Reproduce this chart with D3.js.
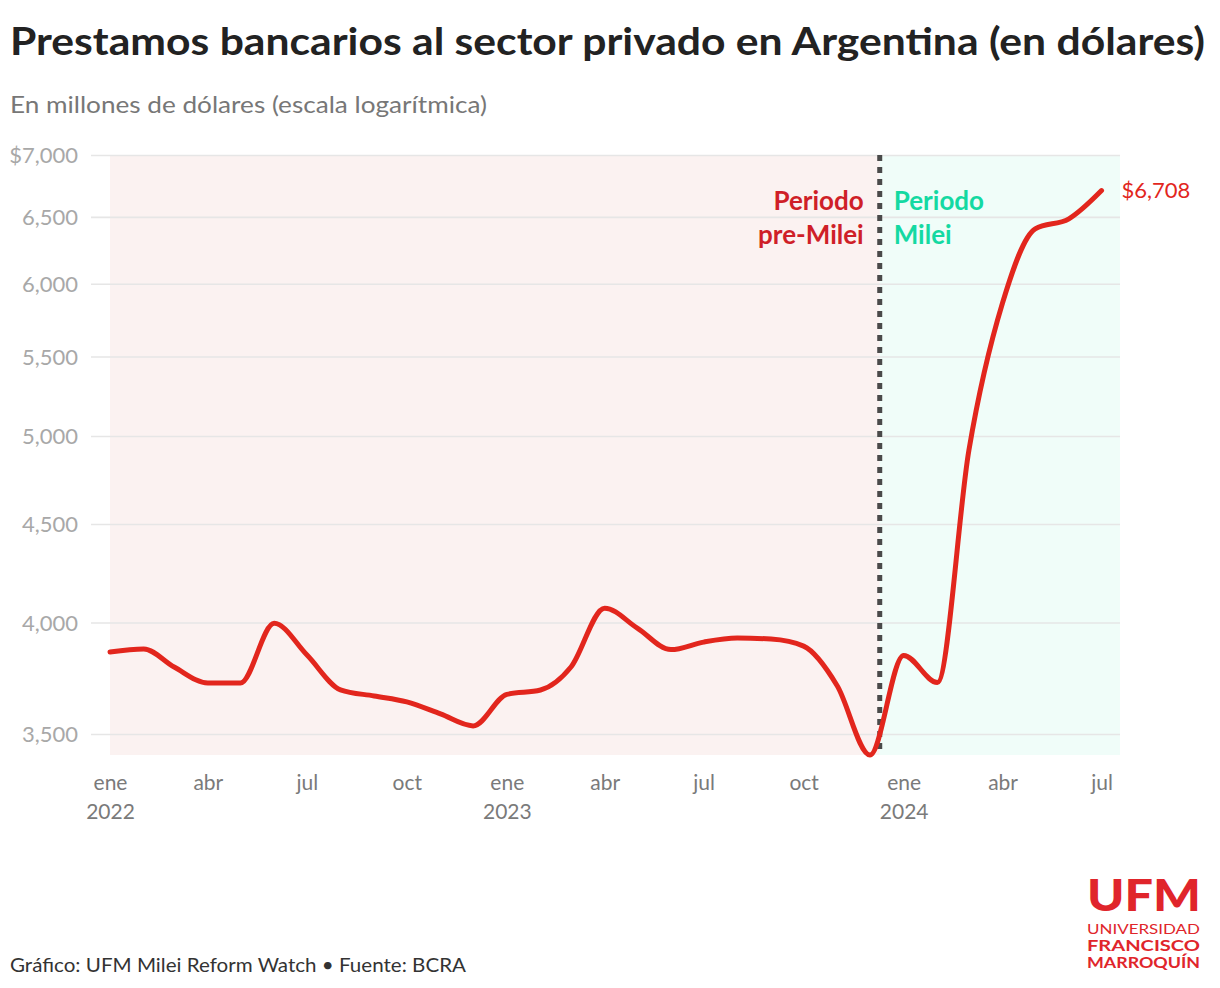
<!DOCTYPE html>
<html>
<head>
<meta charset="utf-8">
<script src="https://cdn.jsdelivr.net/npm/d3@7"></script>
<style>
  html, body { margin: 0; padding: 0; background: #fff; }
  svg { display: block; font-family: Lato, "Noto Sans", sans-serif; }
</style>
</head>
<body>
<svg id="chart" width="1220" height="988"></svg>
<script>
// ---- Data ----
const months = [
  "2022-01","2022-02","2022-03","2022-04","2022-05","2022-06","2022-07","2022-08","2022-09","2022-10","2022-11","2022-12",
  "2023-01","2023-02","2023-03","2023-04","2023-05","2023-06","2023-07","2023-08","2023-09","2023-10","2023-11","2023-12",
  "2024-01","2024-02","2024-03","2024-04","2024-05","2024-06","2024-07"
];
const loans = [
  3861, 3875, 3792, 3720, 3720, 3996, 3848, 3690, 3663, 3637, 3585, 3534,
  3670, 3689, 3792, 4069, 3973, 3872, 3907, 3926, 3921, 3888, 3707, 3413,
  3845, 3722, 4915, 5865, 6408, 6485, 6708
];
const yTicks = [3500, 4000, 4500, 5000, 5500, 6000, 6500, 7000];
const xTickMonths = ["2022-01","2022-04","2022-07","2022-10","2023-01","2023-04","2023-07","2023-10","2024-01","2024-04","2024-07"];
const monthNames = ["ene","feb","mar","abr","may","jun","jul","ago","sep","oct","nov","dic"];
const mileiStart = "2023-12-10";
const xDomain = ["2022-01-01", "2024-07-18"];
const yDomain = [3413, 7000];
const lastLabel = "$6,708";

(function () {
const svg = d3.select("#chart");
const parseM = d3.timeParse("%Y-%m");
const parseD = d3.timeParse("%Y-%m-%d");
const data = months.map((m, i) => ({ date: parseM(m), value: loans[i] }));

const L = 110, R = 1120, T = 155, B = 755;
const x = d3.scaleTime().domain(xDomain.map(parseD)).range([L, R]);
const y = d3.scaleLog().domain(yDomain).range([B, T]);

function fitWidth(sel, w) {
  const cur = sel.node().getComputedTextLength();
  if (Math.abs(cur - w) > 3) sel.attr("textLength", w).attr("lengthAdjust", "spacingAndGlyphs");
}

// Title & subtitle
const title = svg.append("text").attr("x", 10).attr("y", 55)
  .attr("font-size", 38).attr("font-weight", 700).attr("fill", "#222")
  .text("Prestamos bancarios al sector privado en Argentina (en dólares)");
fitWidth(title, 1195);

const sub = svg.append("text").attr("x", 10).attr("y", 113)
  .attr("font-size", 23).attr("fill", "#777")
  .text("En millones de dólares (escala logarítmica)");
fitWidth(sub, 477);

// Background periods
const xm = x(parseD(mileiStart));
svg.append("rect").attr("x", L).attr("y", T).attr("width", xm - L).attr("height", B - T).attr("fill", "#fbf2f1");
svg.append("rect").attr("x", xm).attr("y", T).attr("width", R - xm).attr("height", B - T).attr("fill", "#f0fdf9");

// Y gridlines
const gy = svg.append("g").attr("transform", `translate(${R},0)`).call(
  d3.axisRight(y).tickValues(yTicks).tickSize(-(R - 91)).tickFormat("")
);
gy.select(".domain").remove();
gy.selectAll(".tick line").attr("stroke", "#e6e6e6").attr("stroke-width", 1.6);

// Y labels
const gyl = svg.append("g").attr("transform", "translate(78,0)").call(
  d3.axisLeft(y).tickValues(yTicks).tickSize(0).tickPadding(0)
    .tickFormat(d => (d === 7000 ? "$" : "") + d3.format(",")(d))
);
gyl.select(".domain").remove();
gyl.selectAll(".tick text").attr("font-size", 22).attr("fill", "#a8a8a8")
  .attr("font-family", "Lato, 'Noto Sans', sans-serif").attr("dy", "0.35em");

// X axis labels
const gx = svg.append("g").attr("transform", `translate(0,${B})`).call(
  d3.axisBottom(x).tickValues(xTickMonths.map(parseM)).tickSize(0).tickPadding(0).tickFormat("")
);
gx.select(".domain").remove();
gx.selectAll(".tick text").remove();
gx.selectAll(".tick").each(function(d) {
  const t = d3.select(this).append("text").attr("fill", "#7a7a7a").attr("font-size", 21)
    .attr("text-anchor", "middle").attr("font-family", "Lato, 'Noto Sans', sans-serif");
  t.append("tspan").attr("x", 0).attr("y", 35).text(monthNames[d.getMonth()]);
  if (d.getMonth() === 0) t.append("tspan").attr("x", 0).attr("y", 64).text(d.getFullYear());
});

// Milei divider
svg.append("line").attr("x1", xm).attr("x2", xm).attr("y1", T).attr("y2", B)
  .attr("stroke", "#4a4a4a").attr("stroke-width", 5).attr("stroke-dasharray", "6,6");

// Period annotations
const ann1 = svg.append("text").attr("text-anchor", "end").attr("font-size", 26).attr("font-weight", 700).attr("fill", "#cf1f28");
ann1.append("tspan").attr("x", xm - 16).attr("y", 210).text("Periodo");
ann1.append("tspan").attr("x", xm - 16).attr("y", 244).text("pre-Milei");
const ann2 = svg.append("text").attr("text-anchor", "start").attr("font-size", 26).attr("font-weight", 700).attr("fill", "#14d9a2");
ann2.append("tspan").attr("x", xm + 14).attr("y", 210).text("Periodo");
ann2.append("tspan").attr("x", xm + 14).attr("y", 244).text("Milei");

// Line
const line = d3.line().x(d => x(d.date)).y(d => y(d.value)).curve(d3.curveMonotoneX);
svg.append("path").datum(data).attr("d", line).attr("fill", "none")
  .attr("stroke", "#e2261d").attr("stroke-width", 5).attr("stroke-linecap", "round").attr("stroke-linejoin", "round");

const last = data[data.length - 1];
svg.append("text").attr("x", x(last.date) + 20).attr("y", y(last.value)).attr("dy", "0.35em")
  .attr("font-size", 22).attr("fill", "#e2261d").text(lastLabel);

// Footer
const foot = svg.append("text").attr("x", 10).attr("y", 972).attr("font-size", 20).attr("fill", "#333")
  .text("Gráfico: UFM Milei Reform Watch • Fuente: BCRA");
fitWidth(foot, 456);

// Logo
const logoColor = "#e0252b";
const lg = svg.append("g").attr("fill", logoColor).attr("text-anchor", "start");
lg.append("text").attr("x", 1087).attr("y", 911).attr("font-size", 44).attr("font-weight", 900)
  .attr("textLength", 114).attr("lengthAdjust", "spacingAndGlyphs").text("UFM");
lg.append("text").attr("x", 1087).attr("y", 934).attr("font-size", 14).attr("font-weight", 400)
  .attr("textLength", 113).attr("lengthAdjust", "spacingAndGlyphs").text("UNIVERSIDAD");
lg.append("text").attr("x", 1087).attr("y", 951).attr("font-size", 15).attr("font-weight", 700)
  .attr("textLength", 113).attr("lengthAdjust", "spacingAndGlyphs").text("FRANCISCO");
lg.append("text").attr("x", 1087).attr("y", 968).attr("font-size", 15).attr("font-weight", 700)
  .attr("textLength", 113).attr("lengthAdjust", "spacingAndGlyphs").text("MARROQUÍN");
})();
</script>
</body>
</html>
